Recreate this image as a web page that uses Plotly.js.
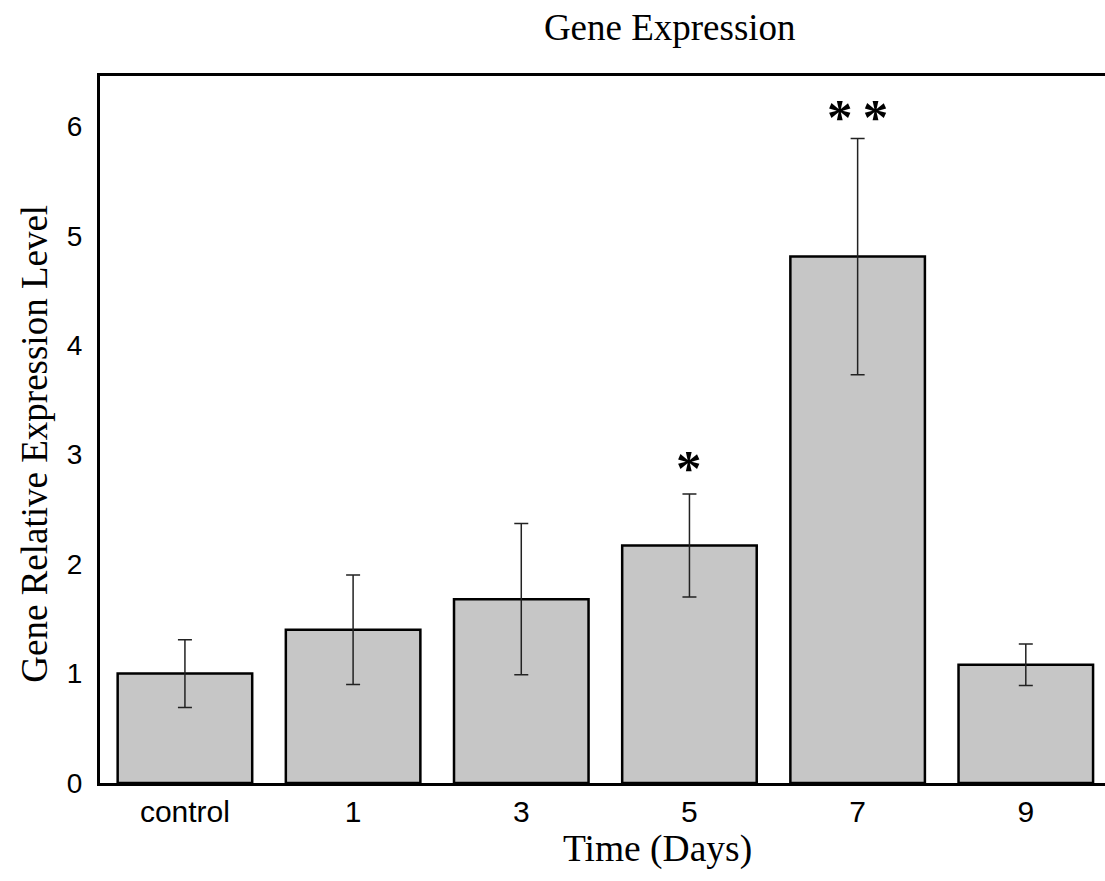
<!DOCTYPE html>
<html>
<head>
<meta charset="utf-8">
<script src="https://cdn.plot.ly/plotly-3.0.1.min.js"></script>
<style>
  html, body { margin: 0; padding: 0; overflow: hidden; background: #fff; }
  #chart { width: 1216px; height: 881px; }
</style>
</head>
<body>
<div id="chart"></div>
<script>
const categories = ['control', '1', '3', '5', '7', '9'];
const expression = [1.00, 1.40, 1.68, 2.17, 4.81, 1.08];
const errors = [0.31, 0.50, 0.69, 0.47, 1.08, 0.19];
const sigCategories = ['5', '7'];
const sigLevels = [2.93, 6.14];
const sigMarks = ['*', '*\u2009*'];
const yTitle = 'Gene Relative Expression Level';

const serif = 'Liberation Serif, Times New Roman, serif';
const sans = 'Liberation Sans, Arial, sans-serif';

const trace = {
  type: 'bar',
  x: categories,
  y: expression,
  marker: { color: '#c6c6c6', line: { color: '#000', width: 2.5 } },
  error_y: { type: 'data', array: errors, visible: true, color: '#222', thickness: 1.5, width: 7 },
  hoverinfo: 'x+y'
};

const annotations = sigCategories.map((c, i) => ({
  x: categories.indexOf(c), y: sigLevels[i], xref: 'x', yref: 'y',
  text: '<b>' + sigMarks[i] + '</b>', showarrow: false,
  font: { family: serif, size: 51, color: '#000' },
  xanchor: 'center', yanchor: 'middle', yshift: -6
}));

annotations.push({
  text: yTitle, xref: 'paper', yref: 'paper',
  x: -0.0583, y: 0.480, xanchor: 'center', yanchor: 'middle',
  textangle: -90, showarrow: false,
  font: { family: serif, size: 37, color: '#000' }
});

const layout = {
  width: 1216, height: 881,
  margin: { l: 100, r: 1, t: 76, b: 98 },
  paper_bgcolor: '#fff', plot_bgcolor: '#fff',
  showlegend: false,
  bargap: 0.2,
  title: {
    text: 'Gene Expression',
    font: { family: serif, size: 37, color: '#000' },
    x: 0.511, xref: 'paper', xanchor: 'center',
    y: 0.969, yref: 'container', yanchor: 'middle'
  },
  xaxis: {
    type: 'category',
    range: [-0.505, 6.125],
    showline: true, linecolor: '#000', linewidth: 3, mirror: true,
    showgrid: false, zeroline: false, ticks: '',
    ticklabelstandoff: 0,
    tickfont: { family: sans, size: 30, color: '#000' },
    title: { text: 'Time (Days)', font: { family: serif, size: 37.5, color: '#000' }, standoff: 1 }
  },
  yaxis: {
    range: [0, 6.46],
    tickvals: [0, 1, 2, 3, 4, 5, 6],
    showline: true, linecolor: '#000', linewidth: 3,
    showgrid: false, zeroline: false, ticks: '',
    ticklabelstandoff: 9,
    tickfont: { family: sans, size: 28, color: '#000' }
  },
  annotations: annotations
};

Plotly.newPlot('chart', [trace], layout, { displayModeBar: false, staticPlot: true });
</script>
</body>
</html>
